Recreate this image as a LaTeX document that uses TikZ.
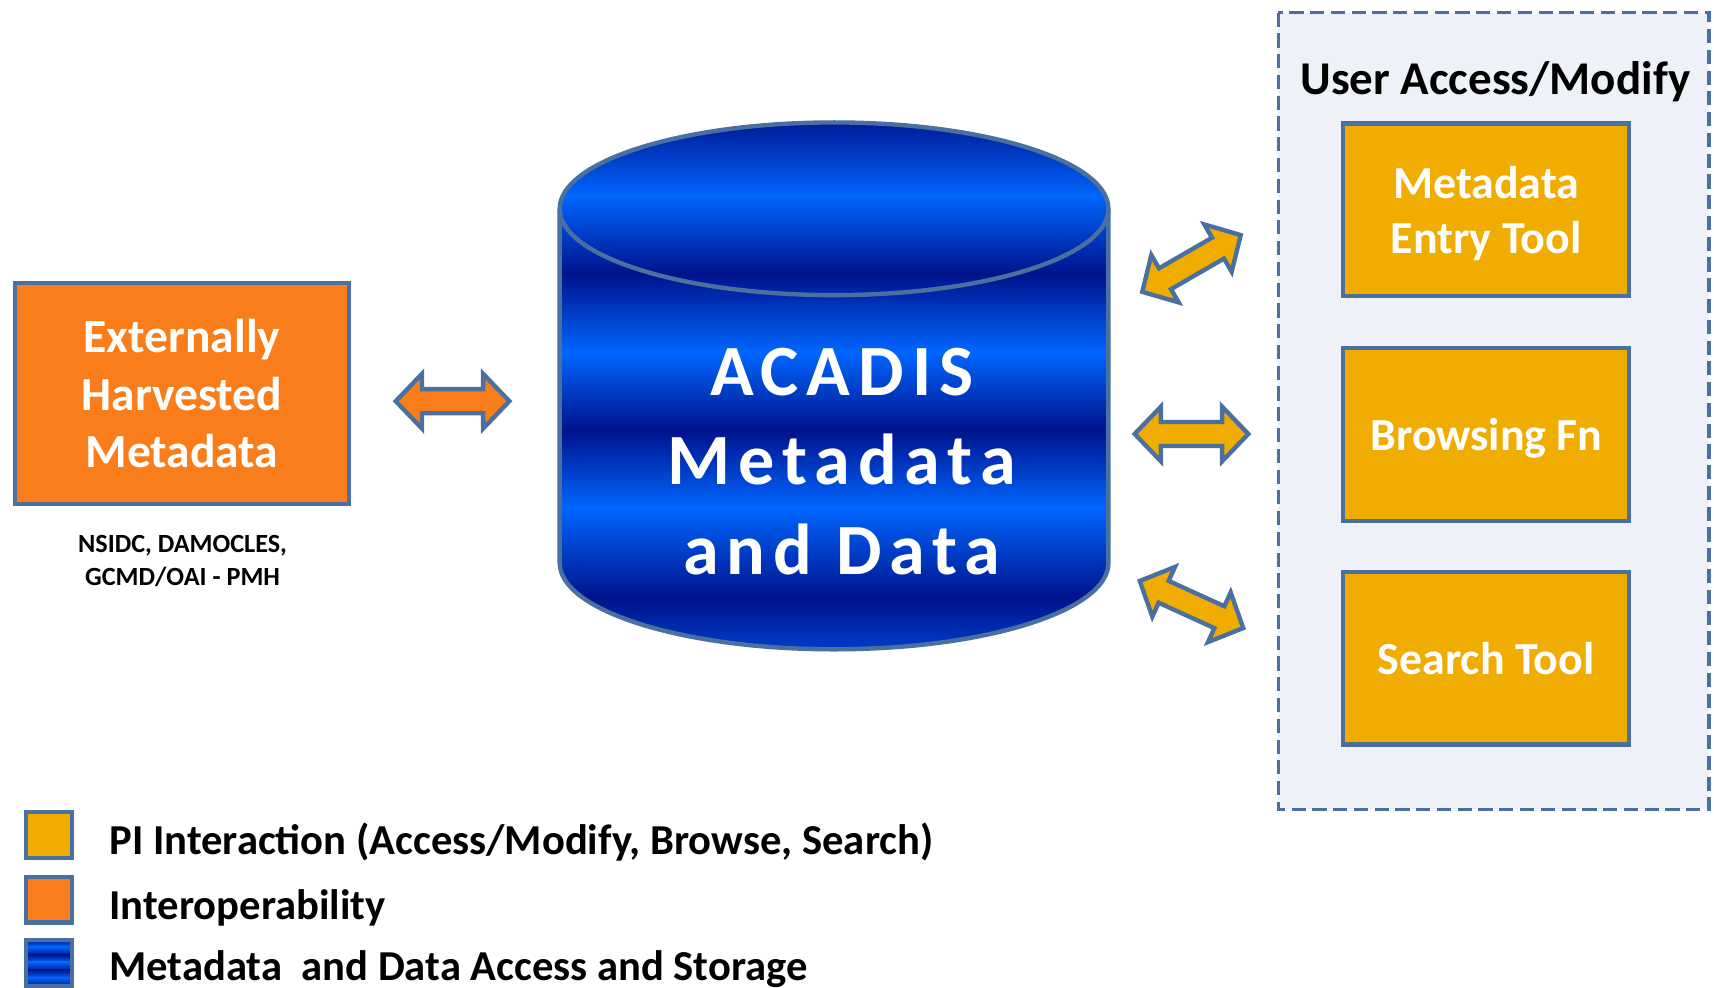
\documentclass[tikz,border=0pt]{standalone}
\usepackage{fontspec}
\setmainfont{Carlito}
\newfontfamily\spacedfont{Carlito}[LetterSpace=11]
\definecolor{gold}{HTML}{F0AC00}
\definecolor{orng}{HTML}{F97D1A}
\definecolor{edge}{HTML}{4A70A0}
\definecolor{panel}{HTML}{EEF2F8}
\definecolor{brightblue}{HTML}{0066FF}
\definecolor{darkblue}{HTML}{00128C}
\newcommand\dblarrow[3]{\draw[blockarrow, fill=#3, shift={(#1)}, rotate=#2]
  (-52,0) -- (-28,-25) -- (-28,-11) -- (28,-11) -- (28,-25) -- (52,0)
  -- (28,25) -- (28,11) -- (-28,11) -- (-28,25) -- cycle;}
\begin{document}
\begin{tikzpicture}[x=1pt,y=-1pt,
  edgeline/.style={draw=edge, line width=4pt},
  toolbox/.style={edgeline, fill=gold, minimum width=262pt, minimum height=158pt,
    inner sep=0pt, text=white, align=center, text depth=-4pt,
    font=\fontsize{42}{50}\selectfont\bfseries},
  extbox/.style={edgeline, fill=orng, minimum width=305pt, minimum height=202pt,
    inner sep=0pt, text=white, align=center, text depth=-6pt,
    font=\fontsize{43.5}{52.5}\selectfont\bfseries},
  legbox/.style={edgeline, minimum width=42pt, minimum height=42pt, inner sep=0pt},
  legtext/.style={anchor=base west, inner sep=0pt, font=\fontsize{39}{47}\selectfont\bfseries},
  blockarrow/.style={edgeline, line join=miter},
]
\useasboundingbox (0,0) rectangle (1568,903);
\clip (0,0) rectangle (1568,903);

% user access panel
\draw[draw=edge, line width=3pt, fill=panel, dash pattern=on 13pt off 6pt]
  (1169.5,11.5) rectangle (1563.5,740.5);
\node[anchor=base, inner sep=0pt, font=\fontsize{43}{50}\selectfont\bfseries]
  (paneltitle) at (1368,86) {User Access/Modify};
\node[toolbox] (entry) at (1359.5,192) {Metadata\\Entry Tool};
\node[toolbox] (browse) at (1359.5,397.5) {Browsing Fn};
\node[toolbox] (search) at (1359.5,602) {Search Tool};

% external metadata
\node[extbox] (ext) at (166.5,360) {Externally\\Harvested\\Metadata};
\node[font=\fontsize{24}{30}\selectfont\bfseries, align=center, inner sep=0pt]
  (src) at (167,513) {NSIDC, DAMOCLES,\\GCMD/OAI - PMH};

% cylinder
\begin{scope}
  \clip (512,515) -- (512,191) arc[start angle=180, end angle=360, x radius=251, y radius=79]
    -- (1014,515) arc[start angle=0, end angle=180, x radius=251, y radius=79] -- cycle;
  \foreach \ya/\yb/\ca/\cb in {104/180/darkblue/brightblue, 179/251/brightblue/darkblue,
      250/323/darkblue/brightblue, 322/394/brightblue/darkblue,
      393/465/darkblue/brightblue, 464/548/brightblue/darkblue,
      547/602/darkblue/brightblue!60!darkblue}
    \shade[top color=\ca, bottom color=\cb] (505,\ya) rectangle (1020,\yb);
\end{scope}
\draw[edgeline] (512,515) -- (512,191) arc[start angle=180, end angle=360, x radius=251, y radius=79]
    -- (1014,515) arc[start angle=0, end angle=180, x radius=251, y radius=79] -- cycle;
\draw[edgeline] (512,191) arc[start angle=180, end angle=0, x radius=251, y radius=79];
\node[text=white, align=center, text depth=0pt, inner sep=0pt,
  font=\spacedfont\fontsize{66}{82}\selectfont\bfseries]
  (cyl) at (770,422) {ACADIS\\Metadata\\and\ Data};

% block arrows
\coordinate (aL) at (414,367);
\coordinate (aU) at (1090,241);
\coordinate (aM) at (1090,397);
\coordinate (aD) at (1090,553);
\dblarrow{aL}{0}{orng}
\dblarrow{aU}{30}{gold}
\dblarrow{aM}{0}{gold}
\dblarrow{aD}{-24.5}{gold}

% legend
\node[legbox, fill=gold] (lg1) at (45,764) {};
\node[legbox, fill=orng] (lg2) at (45,823) {};
\begin{scope}
  \clip (24,860) rectangle (66,902);
  \foreach \ya/\yb/\ca/\cb in {858/867/darkblue/brightblue, 866/874/brightblue/darkblue,
      873/881/darkblue/brightblue, 880/888/brightblue/darkblue,
      887/895/darkblue/brightblue, 894/903/brightblue/darkblue}
    \shade[top color=\ca, bottom color=\cb] (20,\ya) rectangle (70,\yb);
\end{scope}
\node[legbox] (lg3) at (45,881) {};
\node[legtext] (lt1) at (100,782) {PI Interaction (Access/Modify, Browse, Search)};
\node[legtext] (lt2) at (100,841) {Interoperability};
\node[legtext] (lt3) at (100,897) {Metadata\ \ and Data Access and Storage};
\end{tikzpicture}
\end{document}
